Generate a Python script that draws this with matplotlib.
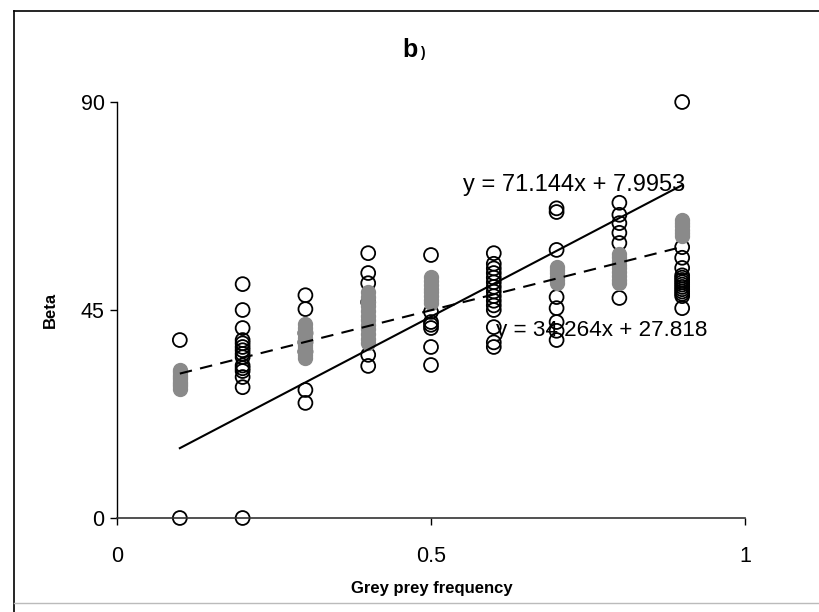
import numpy as np
import matplotlib.pyplot as plt
from matplotlib.lines import Line2D

plt.rcParams['font.family'] = ['Liberation Sans', 'DejaVu Sans']

# open circles, one list per grey prey frequency
open_x = [0.1, 0.2, 0.3, 0.4, 0.5, 0.6, 0.7, 0.8, 0.9]
open_y = [
    [38.5, 0],
    [50.6, 45.0, 41.1, 38.5, 37.8, 37.0, 36.3, 35.5, 34.8, 33.0, 32.4, 31.8, 30.5, 28.3, 0],
    [48.2, 45.2, 40.0, 38.0, 36.0, 27.7, 24.9],
    [57.3, 53.0, 50.8, 46.7, 35.3, 32.9],
    [56.9, 44.6, 42.4, 41.8, 41.1, 37.0, 33.1],
    [57.3, 55.0, 54.0, 53.0, 52.0, 51.0, 50.0, 49.0, 48.0, 47.0, 46.0, 45.0, 41.3, 38.0, 37.0],
    [67.0, 66.2, 58.0, 47.8, 45.4, 42.4, 40.5, 38.5],
    [68.2, 65.6, 63.8, 61.7, 59.5, 47.6],
    [90.0, 58.6, 56.3, 54.1, 52.5, 52.0, 51.5, 51.0, 50.5, 50.0, 49.5, 49.0, 48.5, 48.0, 45.4],
]

# grey filled circles
grey_x = [0.1, 0.3, 0.4, 0.5, 0.7, 0.8, 0.9]
grey_y = [
    [28.0, 28.5, 29.0, 29.5, 30.0, 30.5, 31.0, 31.5, 32.0],
    [34.6, 35.2, 36.0, 36.8, 37.5, 38.2, 39.0, 39.8, 40.5, 41.2, 42.0],
    [37.9, 38.8, 39.8, 40.8, 41.8, 42.8, 43.8, 44.8, 45.8, 46.8, 47.8, 48.9],
    [46.5, 47.2, 48.0, 48.8, 49.6, 50.4, 51.2, 52.1],
    [50.8, 51.5, 52.2, 53.0, 53.7, 54.3],
    [50.8, 51.6, 52.4, 53.2, 54.0, 54.8, 55.6, 56.4, 57.1],
    [61.0, 61.7, 62.4, 63.1, 63.8, 64.5],
]

# regression lines
fit_solid = (71.144, 7.9953)
fit_dashed = (34.264, 27.818)
line_x = [0.1, 0.9]

fig = plt.figure(figsize=(8.19, 6.12), dpi=100, facecolor='w')
ax = fig.add_axes([0.1429, 0.1536, 0.7667, 0.6797])

for x, ys in zip(open_x, open_y):
    ax.scatter([x] * len(ys), ys, s=100, facecolors='none', edgecolors='k',
               linewidths=1.3, zorder=2, clip_on=False)
for x, ys in zip(grey_x, grey_y):
    ax.scatter([x] * len(ys), ys, s=100, facecolors='#8a8a8a', edgecolors='#8a8a8a',
               linewidths=1.0, zorder=3, clip_on=False)

lx = np.array(line_x)
ax.plot(lx, fit_solid[0] * lx + fit_solid[1], c='k', lw=1.5, zorder=4)
ax.plot(lx, fit_dashed[0] * lx + fit_dashed[1], c='k', lw=1.5, ls=(0, (6, 4)), zorder=4)

ax.text(0.551, 72.0, 'y = 71.144x + 7.9953', fontsize=17, va='center', ha='left', zorder=5)
ax.text(0.603, 40.5, 'y = 34.264x + 27.818', fontsize=16.2, va='center', ha='left', zorder=5)

ax.set_xlim(0, 1)
ax.set_ylim(0, 90)
ax.set_xticks([0, 0.5, 1])
ax.set_xticklabels(['0', '0.5', '1'])
ax.set_yticks([0, 45, 90])
ax.tick_params(axis='both', direction='out', length=5, width=1, labelsize=15.5)
ax.tick_params(axis='x', pad=15)
ax.tick_params(axis='y', pad=4)
for side in ['top', 'right']:
    ax.spines[side].set_visible(False)
ax.spines['left'].set_linewidth(1)
ax.spines['bottom'].set_linewidth(1.2)
ax.spines['bottom'].set_color('#333333')

fig.text(50 / 819, 1 - 310 / 612, 'Beta', rotation=90, fontsize=12, fontweight='bold',
         ha='center', va='center')
fig.text(432 / 819, 1 - 588 / 612, 'Grey prey frequency', fontsize=12, fontweight='bold',
         ha='center', va='center')
fig.text(418 / 819, 1 - 50 / 612, 'b', fontsize=18, fontweight='bold', ha='right', va='center')
fig.text(420 / 819, 1 - 53 / 612, ')', fontsize=10, fontweight='bold', ha='left', va='center')

# scanned frame around the figure
fig.add_artist(Line2D([14 / 819, 14 / 819], [0, 1 - 11 / 612], transform=fig.transFigure, c='k', lw=1.2))
fig.add_artist(Line2D([14 / 819, 1], [1 - 11 / 612, 1 - 11 / 612], transform=fig.transFigure, c='k', lw=1.2))
fig.add_artist(Line2D([14 / 819, 1], [1 - 603 / 612, 1 - 603 / 612], transform=fig.transFigure, c='#bbbbbb', lw=1))

fig.savefig('out.png', dpi=100)
